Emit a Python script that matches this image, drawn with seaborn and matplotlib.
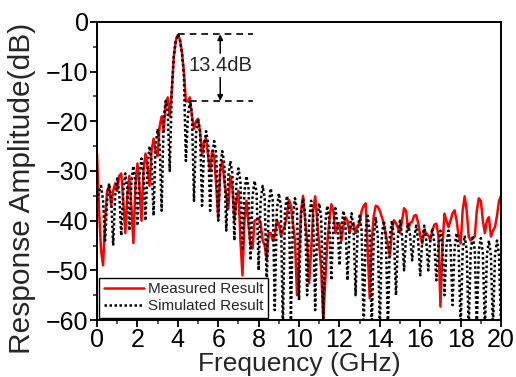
import numpy as np
import pandas as pd
import matplotlib
matplotlib.use('Agg')
import matplotlib.pyplot as plt
from matplotlib.ticker import MultipleLocator
import seaborn as sns

sns.set_theme(style='ticks')
plt.rcParams['font.family'] = ['Liberation Sans', 'DejaVu Sans']

# frequency grid of the read-off samples (GHz)
freq = np.linspace(0, 20, 201)

# measured response (dB), one row per GHz
measured = [
    -26.5, -38, -46, -49, -40, -34, -33, -37, -34, -32.5,        # 0
    -34, -31, -30.5, -36, -42.5, -35, -31, -37, -44.5, -33,      # 1
    -28.5, -33, -40, -30, -26.5, -29, -33, -26, -23.5, -26,      # 2
    -27, -21, -19, -22, -16.5, -15.2, -19, -14, -7, -3.8,        # 3
    -2.6, -3.5, -6, -10, -16, -16, -15.2, -19, -21.5, -20,       # 4
    -19.5, -22, -26.8, -24, -23.5, -27, -30, -26, -27, -33,      # 5
    -39.6, -30, -28, -32, -35, -37.6, -31, -33, -40, -36,        # 6
    -34, -44, -51, -40, -36, -41, -45, -45.6, -40, -39.8,        # 7
    -39.5, -40.5, -44, -45, -47.9, -42.5, -42.5, -44, -43, -40,  # 8
    -40.5, -43, -42, -41, -39, -35.8, -37, -40.5, -44, -55,      # 9
    -48, -38, -35, -40, -44, -52.6, -46, -38, -35.1, -40,        # 10
    -45, -50, -60, -52, -44.6, -40, -36.7, -38, -42.5, -41,      # 11
    -40.5, -44, -41, -39.3, -40, -42.5, -41, -40.5, -42.5, -41,  # 12
    -40.5, -38, -37, -36.5, -46, -55.6, -44, -39, -37, -37.2,    # 13
    -38, -39.3, -40.6, -43, -45, -47.3, -42, -39.9, -40.5, -41.5,  # 14
    -42.5, -40, -37.5, -38, -41.9, -40.5, -40.2, -39, -38.9, -40.5,  # 15
    -43, -44.6, -41.9, -42.5, -43, -43.9, -42, -40.8, -40.6, -43,  # 16
    -57.3, -45, -38.6, -40, -41.3, -40, -38.5, -37.9, -40, -43,  # 17
    -44.6, -38, -35.1, -38, -43.2, -44, -43.5, -43.2, -38, -35.5,  # 18
    -36, -40, -42.5, -40, -39.3, -43.2, -42, -41.3, -39, -36,    # 19
    -35,
]

# simulated response (dB)
simulated = [
    -36, -34, -33, -36, -44, -36, -32.5, -35.5, -45, -35,        # 0
    -31.5, -34.5, -43, -34, -30.5, -33.5, -42, -32.5, -29, -32,  # 1
    -41, -31, -27.5, -30.5, -40, -29, -25, -28, -39, -25,        # 2
    -21.5, -24.5, -38, -19.5, -15.9, -18, -30, -14, -7, -3.8,    # 3
    -2.5, -3.5, -6, -10.5, -28, -19, -15.9, -18.5, -36, -22.5,   # 4
    -19.5, -22, -37, -25, -22, -24.5, -38, -27, -24, -26.5,      # 5
    -40, -29, -26, -28.5, -42, -31, -28, -30.5, -44, -32.5,      # 6
    -29.5, -32, -46, -34, -31, -33.5, -48, -35, -32, -34.5,      # 7
    -50, -36, -33, -35.5, -53, -37, -33.5, -36, -58, -38,        # 8
    -34.5, -37, -62, -38.5, -35, -37.5, -60, -39, -35.5, -38,    # 9
    -56, -39, -35.5, -38.5, -55, -40, -36, -39, -58, -40,        # 10
    -36.5, -39.5, -60, -40.5, -37, -40, -52, -41, -37.5, -40.5,  # 11
    -49, -41.5, -38, -41, -52, -42, -38.5, -41.5, -55, -42,      # 12
    -39, -42, -62, -42, -39, -42.5, -62, -43, -39.5, -43,        # 13
    -62, -43, -40, -43, -62, -43, -40, -43.5, -55, -43,          # 14
    -40, -43, -50, -43, -40.5, -43, -48, -43.5, -41, -44,        # 15
    -51, -44, -41, -44, -50, -44, -41.5, -44.5, -52, -45,        # 16
    -42, -45, -55, -45, -42, -45, -57, -45.5, -42.5, -45.5,      # 17
    -62, -46, -43, -46, -62, -46, -43, -46, -62, -46,            # 18
    -43.5, -46.5, -62, -47, -44, -47, -62, -47, -44, -47,        # 19
    -62,
]

peak_db = -2.5
sidelobe_db = -15.9
label_db = '13.4dB'

df = pd.DataFrame({'freq': freq, 'Measured Result': measured,
                   'Simulated Result': simulated})

fig = plt.figure(figsize=(5.16, 3.77), dpi=100)
ax = fig.add_axes([0.188, 0.151, 0.783, 0.791])

sns.lineplot(data=df, x='freq', y='Measured Result', ax=ax, color='#ff0000',
             linewidth=1.8, label='Measured Result')
sns.lineplot(data=df, x='freq', y='Simulated Result', ax=ax, color='black',
             linewidth=1.8, linestyle=(0, (1, 1)), label='Simulated Result')

ax.set_xlim(0, 20)
ax.set_ylim(-60, 0)
ax.xaxis.set_major_locator(MultipleLocator(2))
ax.xaxis.set_minor_locator(MultipleLocator(1))
ax.yaxis.set_major_locator(MultipleLocator(10))
ax.yaxis.set_minor_locator(MultipleLocator(5))
ax.tick_params(which='major', direction='out', length=5, width=1.3,
               labelsize=18, pad=1, colors='black')
ax.tick_params(which='minor', direction='out', length=3, width=1.1)
for s in ax.spines.values():
    s.set_linewidth(1.4)
    s.set_color('black')

ax.set_xlabel('Frequency (GHz)', fontsize=19, labelpad=0)
ax.set_ylabel('Response Amplitude(dB)', fontsize=21.5)
ax.yaxis.set_label_coords(-0.15, 0.44)

# 13.4 dB annotation
ax.hlines(peak_db, 4.0, 7.7, colors='black', linestyles=(0, (4, 3)), linewidth=1.2)
ax.hlines(sidelobe_db, 4.6, 7.7, colors='black', linestyles=(0, (4, 3)), linewidth=1.2)
ax.annotate('', xy=(6.1, peak_db), xytext=(6.1, -6.3),
            arrowprops=dict(arrowstyle='-|>', color='black', lw=1.1,
                            mutation_scale=8, shrinkA=0, shrinkB=0))
ax.annotate('', xy=(6.1, sidelobe_db), xytext=(6.1, -11.2),
            arrowprops=dict(arrowstyle='-|>', color='black', lw=1.1,
                            mutation_scale=8, shrinkA=0, shrinkB=0))
ax.text(6.13, -8.7, label_db, fontsize=14.5, ha='center', va='center')

leg = ax.legend(loc='lower left', fontsize=11, handlelength=2.6,
                borderaxespad=0.15, borderpad=0.3, labelspacing=0.2,
                handletextpad=0.3, fancybox=False, framealpha=1)
leg.get_frame().set_edgecolor('black')
leg.get_frame().set_linewidth(1.0)

fig.savefig('out.png', dpi=100)
